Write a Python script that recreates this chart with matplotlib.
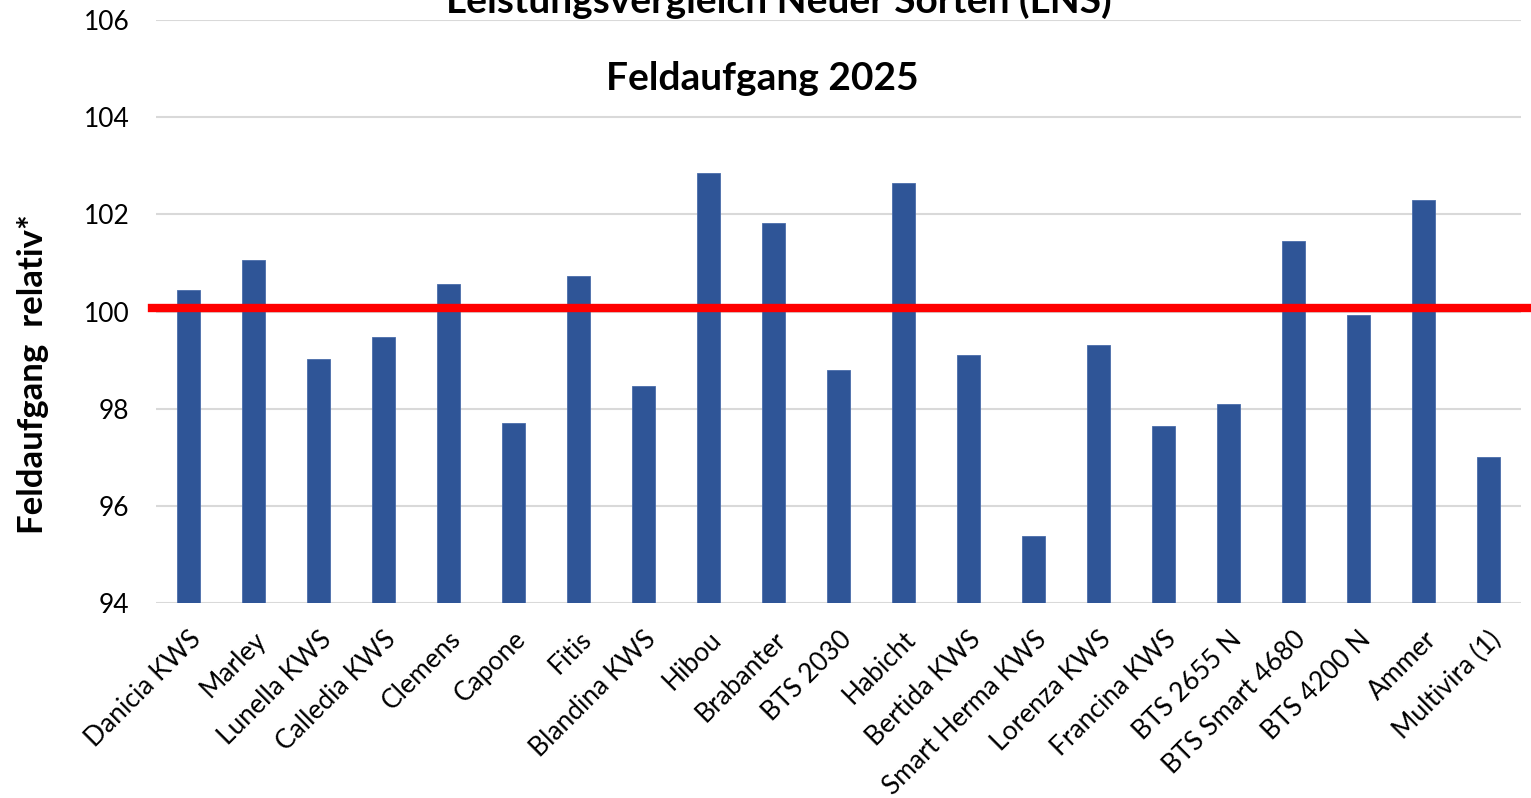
#! /usr/bin/env python
# coding=utf8

'''
LNS Feldaufgang 2025, relative values per variety.
'''

import matplotlib
matplotlib.use('Agg')
import matplotlib.pyplot as plt
from matplotlib.ticker import MultipleLocator

# data
sorten = ['Danicia KWS', 'Marley', 'Lunella KWS', 'Calledia KWS', 'Clemens',
          'Capone', 'Fitis', 'Blandina KWS', 'Hibou', 'Brabanter', 'BTS 2030',
          'Habicht', 'Bertida KWS', 'Smart Herma KWS', 'Lorenza KWS',
          'Francina KWS', 'BTS 2655 N', 'BTS Smart 4680', 'BTS 4200 N',
          'Ammer', 'Multivira (1)']
feldaufgang = [100.44, 101.06, 99.03, 99.48, 100.57, 97.71, 100.73, 98.47,
               102.85, 101.82, 98.80, 102.65, 99.11, 95.38, 99.31, 97.65,
               98.10, 101.45, 99.93, 102.30, 97.01]
referenz = 100.07

title1 = 'Leistungsvergleich Neuer Sorten (LNS)'
title2 = 'Feldaufgang 2025'
ylabel = 'Feldaufgang  relativ*'

plt.rcParams['font.family'] = ['Lato', 'DejaVu Sans']

W, H = 1531, 798
fig = plt.figure(figsize=(W / 100., H / 100.), dpi=100)
ax = fig.add_axes([156. / W, 1 - 603. / H, (1521. - 156.) / W, (603. - 20.) / H])

x = range(len(sorten))
ax.bar(x, feldaufgang, width=0.34, bottom=0, color='#2F5597',
       edgecolor='#4A6DAA', linewidth=0.6, zorder=3)

# reference line, runs a bit past the plot area like in the original
ax.axhline(referenz, xmin=-0.003, xmax=1.01, color='#FF0000', lw=6,
           clip_on=False, zorder=4)

ax.set_ylim(94, 106)
ax.set_xlim(-0.5, len(sorten) - 0.5)
ax.yaxis.set_major_locator(MultipleLocator(2))
ax.grid(axis='y', color='#D9D9D9', lw=1.5, zorder=0)
for s in ax.spines.values():
    s.set_visible(False)
ax.tick_params(axis='both', length=0, labelsize=19, colors='black')
ax.tick_params(axis='y', pad=19)
ax.set_xticks(list(x))
ax.set_xticklabels(sorten, rotation=45, ha='right', rotation_mode='anchor')
ax.tick_params(axis='x', pad=17)

# y label sits lower than the axis centre in the original
fig.text(33. / W, 1 - 374. / H, ylabel, rotation=90, ha='center', va='center',
         fontsize=25, fontweight='bold')

fig.text(779. / W, 1 - 13. / H, title1, ha='center', va='baseline',
         fontsize=28, fontweight='bold')
fig.text(762. / W, 1 - 90. / H, title2, ha='center', va='baseline',
         fontsize=28, fontweight='bold')

fig.savefig('out.png', dpi=100)
